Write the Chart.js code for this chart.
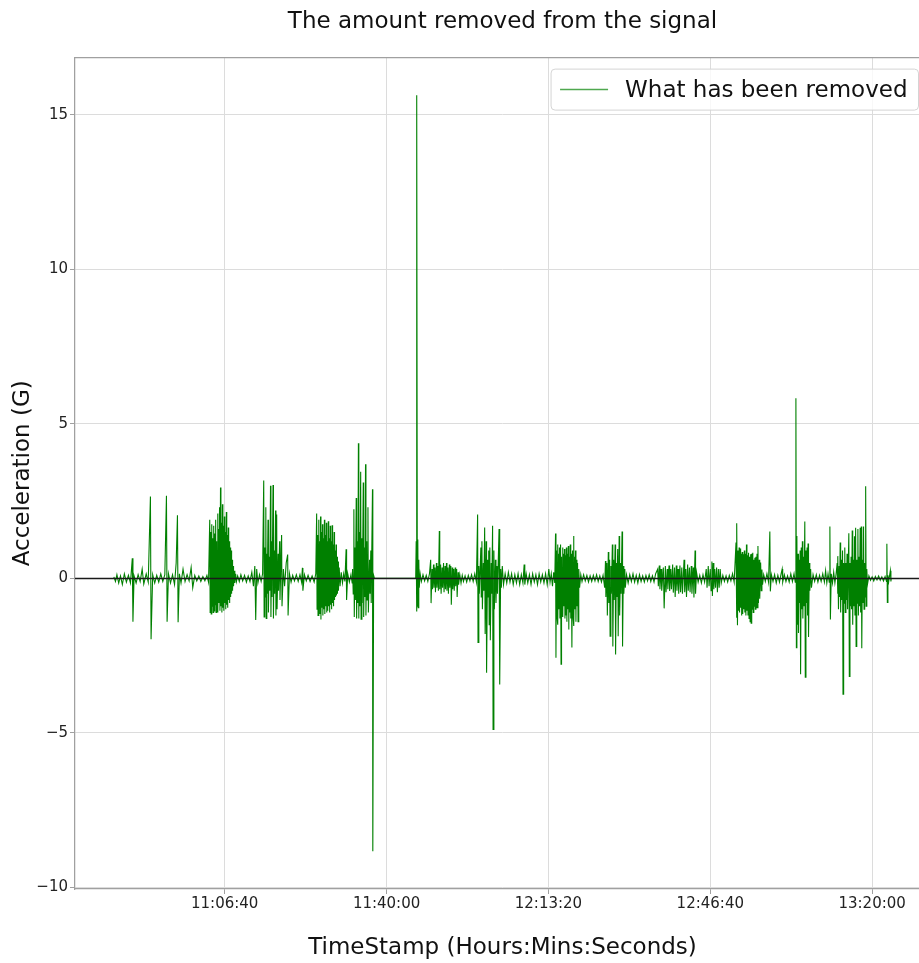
<!DOCTYPE html>
<html>
<head>
<meta charset="utf-8">
<title>The amount removed from the signal</title>
<script src="https://cdn.jsdelivr.net/npm/chart.js@4.4.1/dist/chart.umd.min.js"></script>
<style>
  html, body { margin: 0; padding: 0; background: #fff; overflow: hidden; }
  #wrap { width: 919px; height: 963px; overflow: hidden; }
</style>
</head>
<body>
<div id="wrap"><canvas id="removedChart" width="930" height="963"></canvas></div>
<script>
// time stamps in seconds since midnight
const timeSec = [
  // quiet start with a few single spikes
  38630, 38650, 38668, 38690, 38712, 38735, 38760, 38785, 38810, 38835,
  38858, 38866, 38880, 38905, 38930, 38955, 38980, 39000, 39030, 39055,
  39082, 39090, 39110, 39135, 39160, 39185, 39210, 39235, 39260, 39280,
  39288, 39305, 39330, 39355, 39380, 39400, 39416, 39424, 39440, 39460,
  39485, 39510, 39535, 39560, 39585, 39605, 39630, 39655, 39680, 39705,
  39730, 39755, 39780, 39800,
  // burst ~11:03
  39815, 39820, 39828, 39833, 39840, 39845, 39852, 39857, 39864, 39869,
  39876, 39881, 39888, 39893, 39900, 39905, 39912, 39917, 39924, 39929,
  39936, 39941, 39948, 39953, 39960, 39965, 39972, 39977, 39984, 39989,
  39996, 40001, 40008, 40013, 40020, 40025, 40032, 40037, 40044, 40049,
  40056, 40061, 40068, 40073, 40080, 40085, 40092, 40097, 40104, 40109,
  40118, 40125, 40135, 40145,
  40160, 40180, 40200, 40222, 40245, 40268, 40290, 40312, 40335, 40355,
  40372, 40383, 40395, 40410, 40430, 40450, 40468,
  // burst ~11:15
  40482, 40487, 40495, 40500, 40508, 40513, 40520, 40525, 40535, 40540,
  40550, 40556, 40566, 40571, 40580, 40585, 40597, 40602, 40612, 40617,
  40628, 40633, 40642, 40647, 40660, 40665, 40678, 40683, 40703, 40708,
  40725, 40740, 40760, 40778, 40783, 40800,
  40820, 40840, 40862, 40885, 40908, 40930, 40950, 40960, 40966, 40985,
  41008, 41030, 41055, 41080, 41105, 41125,
  // burst ~11:25
  41136, 41141, 41148, 41153, 41160, 41165, 41172, 41177, 41184, 41189,
  41196, 41201, 41208, 41213, 41220, 41225, 41232, 41237, 41244, 41249,
  41256, 41261, 41268, 41273, 41280, 41285, 41292, 41297, 41304, 41309,
  41316, 41321, 41328, 41333, 41340, 41345, 41352, 41357, 41364, 41369,
  41376, 41381, 41388, 41393, 41400, 41405, 41415, 41425, 41440, 41455,
  41470, 41485, 41500, 41506, 41520, 41540, 41560, 41575,
  // burst ~11:33
  41580, 41588, 41596, 41601, 41610, 41615, 41625, 41630, 41640, 41645,
  41652, 41657, 41665, 41670, 41680, 41685, 41695, 41700, 41712, 41717,
  41728, 41733, 41740, 41745, 41755, 41760, 41770, 41775, 41790, 41795,
  41805, 41810, 41826, 41830, 41840,
  41850, 42360,
  // big spike ~11:46
  42366, 42370, 42375, 42380, 42386, 42391, 42398, 42404, 42415, 42430,
  42450, 42470, 42490, 42510, 42530,
  42545, 42550, 42562, 42568, 42580, 42586, 42598, 42604, 42616, 42622,
  42634, 42640, 42652, 42657, 42668, 42674, 42686, 42692, 42704, 42710,
  42722, 42728, 42740, 42746, 42758, 42764, 42776, 42782, 42794, 42800,
  42812, 42818, 42830, 42836, 42848, 42854, 42866, 42872, 42884, 42890,
  42905, 42920, 42935,
  42950, 42970, 42990, 43010, 43030, 43050, 43070, 43090, 43110,
  // burst ~11:59
  43125, 43130, 43140, 43146, 43165, 43170, 43178, 43184, 43196, 43202,
  43212, 43218, 43230, 43236, 43248, 43254, 43262, 43268, 43276, 43282,
  43294, 43300, 43310, 43316, 43326, 43332, 43345, 43352, 43364, 43370,
  43390, 43398, 43410, 43418, 43430,
  43445, 43465, 43485, 43505, 43525, 43545, 43565, 43585, 43605, 43625,
  43645, 43665, 43685, 43700, 43708, 43725, 43745, 43765, 43785, 43805,
  43825, 43845, 43865, 43885, 43905, 43925, 43945, 43965, 43985, 44005,
  44020, 44035, 44050, 44065, 44078,
  // burst ~12:15
  44088, 44093, 44100, 44106, 44112, 44118, 44124, 44130, 44136, 44142,
  44150, 44156, 44162, 44168, 44174, 44180, 44186, 44192, 44198, 44204,
  44210, 44216, 44222, 44228, 44234, 44240, 44246, 44252, 44258, 44264,
  44270, 44276, 44282, 44290, 44298, 44304, 44310, 44316, 44322, 44328,
  44334, 44340, 44346, 44352, 44360, 44366, 44375, 44385, 44400,
  44415, 44435, 44455, 44475, 44495, 44515, 44535, 44555, 44575, 44595,
  44615, 44635, 44655, 44675, 44695,
  // burst ~12:25
  44705, 44710, 44722, 44728, 44740, 44746, 44756, 44762, 44772, 44778,
  44790, 44796, 44806, 44812, 44824, 44830, 44840, 44846, 44856, 44862,
  44874, 44880, 44892, 44898, 44910, 44916, 44926, 44932, 44944, 44950,
  44965, 44985, 45005, 45025, 45045, 45065, 45085, 45105, 45125, 45145,
  45165, 45185, 45205, 45225, 45245, 45265, 45285, 45305, 45325,
  45350, 45358, 45370, 45378, 45392, 45400, 45420, 45430, 45445, 45453,
  45468, 45476, 45490, 45498, 45512, 45520, 45535, 45543, 45558, 45566,
  45580, 45588, 45602, 45610, 45625, 45633, 45648, 45656, 45676, 45684,
  45698, 45706, 45720, 45728, 45742, 45750, 45765, 45773, 45790, 45798,
  45812, 45818, 45830,
  45850, 45870, 45890, 45910, 45930, 45950, 45960, 45975, 45985, 46000,
  46010, 46020, 46026, 46036, 46044, 46055, 46065, 46078, 46088, 46100,
  46110, 46122, 46135, 46155, 46175, 46195, 46215, 46235, 46255, 46275,
  46295,
  // burst ~12:52
  46318, 46323, 46330, 46336, 46343, 46349, 46356, 46362, 46369, 46375,
  46382, 46388, 46395, 46401, 46408, 46414, 46421, 46427, 46434, 46440,
  46447, 46453, 46460, 46466, 46473, 46479, 46486, 46492, 46499, 46505,
  46512, 46518, 46525, 46531, 46538, 46544, 46551, 46557, 46564, 46570,
  46577, 46583, 46589, 46595, 46605, 46611, 46622, 46630, 46638, 46646,
  46660, 46680, 46700, 46720, 46736, 46742, 46755, 46775, 46795, 46815,
  46835, 46855, 46875, 46888, 46895, 46915, 46935, 46955, 46975, 46995,
  47015, 47035, 47050,
  // spike ~13:04
  47058, 47064, 47070, 47076, 47084, 47090, 47098, 47104, 47110, 47116,
  47124, 47130, 47138, 47144, 47152, 47158, 47168, 47174, 47182, 47188,
  47196, 47202, 47208, 47214, 47224, 47230, 47240, 47250,
  47270, 47290, 47310, 47330, 47350, 47370, 47390, 47410, 47425, 47440,
  47455, 47470, 47478, 47484, 47495, 47510, 47525, 47540, 47555,
  // burst ~13:13
  47568, 47573, 47578, 47584, 47592, 47598, 47605, 47611, 47620, 47626,
  47634, 47640, 47648, 47654, 47662, 47668, 47676, 47682, 47690, 47696,
  47712, 47718, 47726, 47732, 47740, 47746, 47754, 47760, 47768, 47774,
  47782, 47788, 47796, 47802, 47810, 47816, 47824, 47830, 47838, 47844,
  47852, 47858, 47866, 47872, 47880, 47886, 47894, 47900, 47908, 47914,
  47920, 47926, 47934, 47942,
  47960, 47980, 48000, 48020, 48040, 48060, 48080, 48100, 48120, 48140,
  48160, 48178, 48182, 48188, 48195, 48205, 48215, 48225, 48232, 48236
];

// acceleration removed (G), one value per time stamp above
const accelG = [
  0.05, -0.1, 0.12, -0.15, 0.08, -0.2, 0.15, -0.12, 0.1, -0.15,
  0.65, -1.4, 0.08, -0.15, 0.12, -0.1, 0.3, -0.18, 0.15, -0.12,
  2.65, -1.97, 0.12, -0.15, 0.1, -0.12, 0.15, -0.1, 0.12, 2.67,
  -1.4, 0.15, -0.15, 0.12, -0.2, 0.5, 2.04, -1.42, 0.15, -0.15,
  0.3, -0.1, 0.12, -0.08, 0.35, -0.3, 0.1, -0.08, 0.08, -0.1,
  0.06, -0.08, 0.1, -0.12,
  1.9, -1.1, 1.5, -1.15, 1.75, -0.9, 1.3, -1.1, 1.7, -1.05,
  1.45, -0.85, 1.9, -1.1, 1.2, -0.95, 2.1, -1.1, 1.6, -0.8,
  2.3, -1.05, 2.94, -0.9, 1.8, -1.1, 2.4, -0.95, 1.7, -1.05,
  2.0, -0.8, 1.5, -1.0, 2.15, -0.85, 1.4, -0.95, 1.65, -0.7,
  1.2, -0.8, 1.0, -0.6, 0.9, -0.5, 0.6, -0.4, 0.4, -0.25,
  0.25, -0.15, 0.15, -0.1,
  0.08, -0.1, 0.12, -0.08, 0.1, -0.12, 0.08, -0.1, 0.2, -0.25,
  0.4, -1.35, 0.3, -0.15, 0.12, -0.1, 0.15,
  3.17, -1.25, 1.0, -0.6, 2.3, -1.3, 0.8, -0.5, 1.9, -1.1,
  0.7, -0.4, 3.0, -1.25, 1.2, -0.6, 3.02, -1.3, 0.9, -0.5,
  2.2, -1.2, 2.07, -1.0, 0.8, -0.4, 1.2, -0.7, 1.4, -0.9,
  0.3, -0.25, 0.5, 0.77, -1.2, 0.15,
  -0.12, 0.1, -0.08, 0.12, -0.1, 0.12, -0.12, 0.34, -0.4, 0.12,
  -0.08, 0.1, -0.1, 0.08, -0.12, 0.15,
  2.1, -1.0, 1.4, -1.2, 1.9, -0.9, 1.2, -1.15, 2.0, -1.33,
  1.5, -0.95, 1.75, -1.2, 1.3, -1.0, 1.9, -1.15, 1.4, -0.9,
  1.8, -1.1, 1.2, -1.05, 1.85, -0.9, 1.3, -1.1, 1.7, -0.85,
  1.2, -1.0, 1.72, -0.8, 1.1, -0.9, 1.5, -0.7, 0.9, -0.6,
  1.1, -0.55, 0.7, -0.5, 0.55, -0.4, 0.35, -0.25, 0.2, -0.15,
  0.15, -0.1, 0.94, -0.7, 0.15, -0.12, 0.12, -0.15,
  0.3, -0.5, 2.24, -1.25, 1.0, -0.7, 2.6, -1.3, 1.2, -0.8,
  4.37, -1.3, 1.5, -0.9, 3.45, -1.32, 1.3, -0.8, 3.1, -1.25,
  1.0, -0.6, 3.69, -1.2, 1.2, -0.7, 2.3, -1.1, 0.6, -0.5,
  0.9, -0.8, 2.88, -8.83, 0.1,
  0, 0,
  1.2, -1.07, 15.63, -0.9, 1.26, -0.95, 0.6, -0.3, 0.15, -0.1,
  0.12, -0.08, 0.1, -0.1, 0.15,
  0.6, -0.8, 0.3, -0.35, 0.45, -0.3, 0.35, -0.45, 0.5, -0.3,
  0.4, -0.4, 1.53, -0.35, 0.45, -0.5, 0.35, -0.3, 0.5, -0.45,
  0.4, -0.35, 0.5, -0.4, 0.35, -0.5, 0.45, -0.3, 0.4, -0.85,
  0.35, -0.35, 0.3, -0.4, 0.35, -0.25, 0.3, -0.6, 0.2, -0.2,
  0.12, -0.15, 0.1,
  -0.1, 0.08, -0.12, 0.1, -0.08, 0.12, -0.1, 0.15, -0.12,
  2.07, -2.07, 0.4, -0.5, 1.0, -0.6, 1.2, -1.0, 0.5, -0.4,
  1.65, -1.8, 1.2, -3.05, 0.6, -0.6, 0.9, -1.5, 1.0, -2.0,
  0.5, -0.5, 1.7, -4.89, 0.9, -1.0, 0.6, -0.8, 0.4, -0.5,
  1.6, -3.43, 0.3, -0.3, 0.4,
  -0.2, 0.15, -0.15, 0.2, -0.12, 0.15, -0.2, 0.12, -0.15, 0.15,
  -0.2, 0.12, -0.15, 0.45, -0.2, 0.15, -0.15, 0.12, -0.2, 0.15,
  -0.12, 0.12, -0.2, 0.15, -0.12, 0.12, -0.15, 0.15, -0.2, 0.3,
  -0.12, 0.15, -0.25, 0.2, -0.15,
  1.45, -2.57, 0.9, -1.2, 1.1, -1.5, 0.8, -1.0, 1.0, -1.3,
  1.1, -2.78, 0.7, -1.1, 1.0, -1.25, 0.8, -0.9, 0.95, -1.3,
  0.75, -1.2, 1.0, -1.4, 0.8, -1.0, 1.05, -1.65, 0.7, -1.1,
  1.1, -1.3, 0.8, -2.24, 0.9, -1.2, 1.37, -1.54, 0.7, -1.0,
  0.9, -1.4, 0.6, -0.9, 0.5, -1.4, 0.3, -0.3, 0.12,
  -0.1, 0.12, -0.08, 0.1, -0.12, 0.08, -0.1, 0.1, -0.08, 0.12,
  -0.1, 0.08, -0.12, 0.1, -0.3,
  0.56, -0.6, 0.5, -1.2, 0.85, -0.8, 0.6, -1.87, 0.4, -0.5,
  1.1, -2.2, 0.6, -0.7, 1.1, -2.46, 0.5, -0.6, 0.95, -1.87,
  1.37, -1.2, 0.5, -0.5, 1.52, -2.2, 0.4, -0.5, 0.3, -0.3,
  0.12, -0.15, 0.12, -0.1, 0.15, -0.12, 0.1, -0.15, 0.12, -0.1,
  0.08, -0.12, 0.1, -0.08, 0.12, -0.1, 0.08, -0.12, 0.15,
  0.3, -0.25, 0.42, -0.35, 0.3, -0.4, 0.35, -0.97, 0.4, -0.45,
  0.3, -0.35, 0.42, -0.41, 0.3, -0.35, 0.45, -0.46, 0.35, -0.6,
  0.42, -0.4, 0.3, -0.5, 0.42, -0.45, 0.35, -0.5, 0.6, -0.45,
  0.3, -0.6, 0.45, -0.4, 0.35, -0.45, 0.4, -0.5, 0.35, -0.62,
  0.9, -0.5, 0.2,
  -0.12, 0.1, -0.15, 0.12, -0.12, 0.3, -0.3, 0.4, -0.25, 0.3,
  -0.4, 0.55, -0.57, 0.5, -0.35, 0.3, -0.3, 0.35, -0.45, 0.3,
  -0.3, 0.3, -0.15, 0.1, -0.1, 0.08, -0.12, 0.1, -0.08, 0.15,
  -0.12,
  1.16, -1.27, 1.78, -1.52, 0.9, -1.05, 1.0, -1.1, 0.97, -0.95,
  0.8, -1.2, 0.85, -1.15, 0.78, -1.0, 0.9, -1.1, 0.8, -1.2,
  1.1, -1.05, 0.75, -1.2, 0.83, -1.3, 0.7, -1.4, 0.78, -1.45,
  0.8, -1.0, 0.83, -1.1, 0.6, -0.9, 0.67, -1.0, 0.7, -0.95,
  0.8, -0.95, 1.05, -0.8, 0.6, -0.66, 0.51, -0.4, 0.29, -0.2,
  0.12, -0.1, 0.15, -0.12, 1.52, -0.42, 0.12, -0.1, 0.12, -0.15,
  0.1, -0.12, 0.15, 0.3, -0.12, 0.12, -0.1, 0.08, -0.12, 0.15,
  -0.1, 0.15, -0.12,
  5.83, -2.24, 1.37, -1.5, 0.8, -1.77, 0.6, -0.8, 0.9, -3.1,
  1.0, -1.0, 1.2, -1.3, 0.7, -0.9, 1.84, -3.2, 0.9, -0.8,
  1.0, -1.2, 1.13, -1.9, 0.5, -0.4, 0.3, -0.3,
  0.12, -0.1, 0.12, -0.12, 0.1, -0.1, 0.15, -0.12, 0.25, -0.15,
  0.15, -0.12, 1.68, -1.33, 0.15, -0.15, 0.2, -0.15, 0.15,
  0.5, -0.5, 0.72, -1.0, 0.4, -0.6, 1.16, -1.1, 0.6, -0.7,
  0.9, -3.75, 0.5, -0.8, 1.0, -1.1, 0.5, -0.7, 0.8, -1.0,
  1.46, -3.17, 0.5, -0.9, 0.7, -1.0, 1.55, -1.5, 0.6, -0.9,
  1.36, -1.2, 1.64, -2.2, 0.6, -0.8, 1.6, -1.2, 0.7, -0.9,
  1.64, -1.1, 1.68, -2.26, 0.6, -0.8, 1.68, -1.0, 0.5, -0.6,
  2.98, -0.9, 0.3, -0.2,
  0.08, -0.06, 0.05, -0.08, 0.06, -0.05, 0.08, -0.06, 0.05, -0.08,
  0.06, -0.1, 1.12, -0.78, 0.1, -0.1, 0.08, 0.25, -0.1, 0
];

const xTickSeconds = [40000, 42000, 44000, 46000, 48000];
const xTickLabels = ['11:06:40', '11:40:00', '12:13:20', '12:46:40', '13:20:00'];
const yTickValues = [-10, -5, 0, 5, 10, 15];
const yTickLabels = ['\u221210', '\u22125', '0', '5', '10', '15'];
const xLimits = [38150, 48715];
const yLimits = [-10.05, 16.85];

Chart.defaults.font.family = '"DejaVu Sans", "Noto Sans", sans-serif';
Chart.defaults.color = '#222';

const n = Math.min(timeSec.length, accelG.length);
if (timeSec.length !== accelG.length) console.warn('length mismatch', timeSec.length, accelG.length);
const removedPoints = [];
for (let i = 0; i < n; i++) {
  removedPoints.push({ x: timeSec[i], y: accelG[i] });
}
// horizontal reference at zero across the whole axis
const zeroLine = [{ x: xLimits[0], y: 0 }, { x: xLimits[1], y: 0 }];

const spineColor = '#a0a0a0';

// matplotlib-style legend box in the upper right corner + top spine
const cornerLegend = {
  id: 'cornerLegend',
  afterDatasetsDraw(chart) {
    const { ctx, chartArea } = chart;
    ctx.save();
    ctx.strokeStyle = spineColor;
    ctx.lineWidth = 1.25;
    ctx.beginPath();
    ctx.moveTo(chartArea.left, chartArea.top);
    ctx.lineTo(chartArea.right, chartArea.top);
    ctx.stroke();

    const ds = chart.data.datasets[1];
    ctx.font = '23px "DejaVu Sans"';
    const tw = ctx.measureText(ds.label).width;
    const right = chartArea.right - 11.5;
    const top = chartArea.top + 11.5;
    const w = 74 + tw + 11;
    const h = 41;
    const left = right - w;
    ctx.beginPath();
    ctx.roundRect(left, top, w, h, 4);
    ctx.fillStyle = 'rgba(255,255,255,0.8)';
    ctx.fill();
    ctx.strokeStyle = '#d4d4d4';
    ctx.lineWidth = 1;
    ctx.stroke();

    const midY = top + h / 2;
    ctx.strokeStyle = '#4fa84f';
    ctx.lineWidth = 1.5;
    ctx.beginPath();
    ctx.moveTo(left + 9, midY);
    ctx.lineTo(left + 57, midY);
    ctx.stroke();

    ctx.fillStyle = '#111';
    ctx.textBaseline = 'middle';
    ctx.textAlign = 'left';
    ctx.fillText(ds.label, left + 74, midY + 1);
    ctx.restore();
  }
};

const ctx = document.getElementById('removedChart').getContext('2d');
new Chart(ctx, {
  type: 'line',
  data: {
    datasets: [
      {
        label: 'zero',
        data: zeroLine,
        borderColor: '#1a1a1a',
        borderWidth: 1.5,
        order: 0
      },
      {
        label: 'What has been removed',
        data: removedPoints,
        borderColor: 'green',
        borderWidth: 1.1,
        order: 1
      }
    ]
  },
  options: {
    responsive: false,
    animation: false,
    devicePixelRatio: 1,
    parsing: false,
    elements: {
      point: { radius: 0 },
      line: { tension: 0, fill: false }
    },
    layout: { padding: 0 },
    plugins: {
      legend: { display: false },
      tooltip: { enabled: false },
      title: {
        display: true,
        text: 'The amount removed from the signal',
        fullSize: false,
        color: '#111',
        font: { size: 23, weight: 'normal' },
        padding: { top: 8, bottom: 22 }
      }
    },
    scales: {
      x: {
        type: 'linear',
        position: 'bottom',
        min: xLimits[0],
        max: xLimits[1],
        afterBuildTicks: s => { s.ticks = xTickSeconds.map(v => ({ value: v })); },
        afterFit: s => { s.height = 74; },
        ticks: {
          callback: (v, i) => xTickLabels[i],
          color: '#222',
          font: { size: 15 },
          padding: 1,
          maxRotation: 0,
          autoSkip: false
        },
        grid: { color: '#dcdcdc', lineWidth: 1, tickLength: 5, tickColor: spineColor },
        border: { color: spineColor, width: 1.25 },
        title: {
          display: true,
          text: 'TimeStamp (Hours:Mins:Seconds)',
          color: '#111',
          font: { size: 23 },
          padding: { top: 0, bottom: 1 }
        }
      },
      y: {
        type: 'linear',
        min: yLimits[0],
        max: yLimits[1],
        afterBuildTicks: s => { s.ticks = yTickValues.map(v => ({ value: v })); },
        afterFit: s => { s.width = 75; },
        ticks: {
          callback: (v, i) => yTickLabels[i],
          color: '#222',
          font: { size: 15 },
          padding: 2
        },
        grid: { color: '#dcdcdc', lineWidth: 1, tickLength: 5, tickColor: spineColor },
        border: { color: spineColor, width: 1.25 },
        title: {
          display: true,
          text: 'Acceleration (G)',
          color: '#111',
          font: { size: 23 },
          padding: { top: 9, bottom: 0 }
        }
      }
    }
  },
  plugins: [cornerLegend]
});
</script>
</body>
</html>
